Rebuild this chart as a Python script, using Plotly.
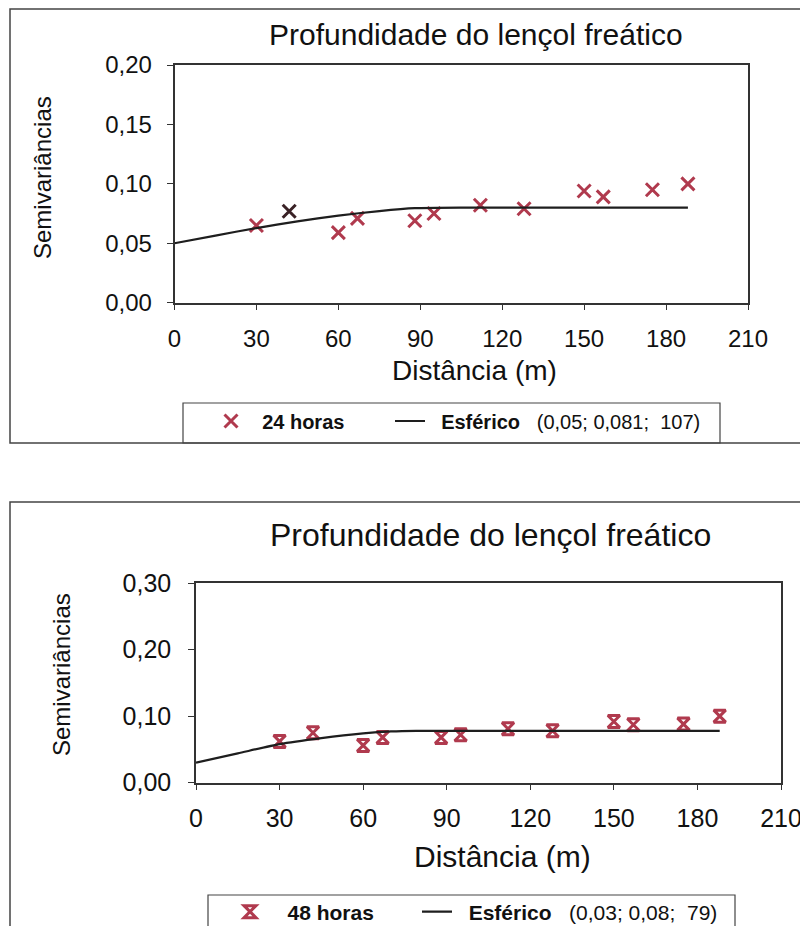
import plotly.graph_objects as go

# the page keeps the browser's 8px body margin; the figure reaches the window's right/bottom edge
OFF = 8
W, H = 808 - OFF, 926 - OFF

def px(x):
    return (x - OFF) / W

def py(y):
    return 1 - (y - OFF) / H

# ---------------- data ----------------
title_text = "Profundidade do lençol freático"
x_title = "Distância (m)"
y_title = "Semivariâncias"

dist = [30, 42, 60, 67, 88, 95, 112, 128, 150, 157, 175, 188]

gamma_24h = [0.065, 0.077, 0.059, 0.071, 0.069, 0.075, 0.082, 0.079, 0.094, 0.089, 0.095, 0.100]
model_24h_x = [0, 15, 30, 45, 60, 75, 88, 107, 188]
model_24h_y = [0.050, 0.0565, 0.0628, 0.0685, 0.0733, 0.0771, 0.0795, 0.0800, 0.0800]

gamma_48h = [0.062, 0.075, 0.056, 0.068, 0.068, 0.072, 0.081, 0.078, 0.092, 0.087, 0.088, 0.100]
model_48h_x = [0, 15, 30, 45, 60, 70, 79, 188]
model_48h_y = [0.030, 0.044, 0.058, 0.067, 0.074, 0.077, 0.078, 0.078]

NB = "\u00a0"
name_24 = NB * 2 + "<b>24 horas</b>"
name_m24 = NB * 2 + "<b>Esférico</b>" + NB * 3 + "(0,05; 0,081;" + NB * 2 + "107)"
name_48 = NB * 3 + "<b>48 horas</b>"
name_m48 = NB * 2 + "<b>Esférico</b>" + NB * 3 + "(0,03; 0,08;" + NB * 2 + "79)"

x_ticks = [0, 30, 60, 90, 120, 150, 180, 210]
y_ticks_top = [0.00, 0.05, 0.10, 0.15, 0.20]
y_ticks_bot = [0.00, 0.10, 0.20, 0.30]

RED = "#b03a4e"
DARK = "#1e1e1e"
FONT = "Liberation Sans, Arial, sans-serif"
TXT = "#111111"

fig = go.Figure()

# top chart
pt_colors = [RED] * len(dist)
pt_colors[1] = "#3a2226"
fig.add_trace(go.Scatter(
    x=dist, y=gamma_24h, mode="markers", name=name_24,
    marker=dict(symbol="x-thin", size=13, color=pt_colors,
                line=dict(width=3, color=pt_colors)),
    xaxis="x", yaxis="y", legend="legend"))
fig.add_trace(go.Scatter(
    x=model_24h_x, y=model_24h_y, mode="lines", name=name_m24,
    line=dict(color=DARK, width=2.2, shape="spline", smoothing=0.6),
    xaxis="x", yaxis="y", legend="legend2"))

# bottom chart
fig.add_trace(go.Scatter(
    x=dist, y=gamma_48h, mode="markers", name=name_48,
    marker=dict(symbol="hourglass-open", size=12, color=RED,
                line=dict(width=3, color=RED)),
    xaxis="x2", yaxis="y2", legend="legend3"))
fig.add_trace(go.Scatter(
    x=model_48h_x, y=model_48h_y, mode="lines", name=name_m48,
    line=dict(color=DARK, width=2.2, shape="spline", smoothing=0.6),
    xaxis="x2", yaxis="y2", legend="legend4"))

def axis(size, standoff):
    return dict(showgrid=False, zeroline=False, showline=True, mirror=True,
                automargin=False,
                linecolor="#333333", linewidth=1.5, ticks="outside",
                tickcolor="#333333", ticklen=6, tickwidth=1.2,
                ticklabelstandoff=standoff,
                tickfont=dict(family=FONT, size=size, color=TXT))

def leg(x, y, size):
    return dict(orientation="h", x=px(x), y=py(y), xanchor="left", yanchor="middle",
                bgcolor="rgba(0,0,0,0)", borderwidth=0,
                font=dict(family=FONT, size=size, color=TXT))

fig.update_layout(
    template="none",
    width=W, height=H,
    margin=dict(l=0, r=0, t=0, b=0, pad=0, autoexpand=False),
    paper_bgcolor="white", plot_bgcolor="white",
    separators=",.",
    font=dict(family=FONT, color=TXT),
    xaxis=dict(domain=[px(174.5), px(748)], range=[0, 210], tickvals=x_ticks,
               anchor="y", **axis(24, 8)),
    yaxis=dict(domain=[py(302.7), py(65)], range=[0, 0.20], tickvals=y_ticks_top,
               tickformat=".2f", anchor="x", **axis(24, 10)),
    xaxis2=dict(domain=[px(196), px(781)], range=[0, 210], tickvals=x_ticks,
                anchor="y2", **axis(25, 7)),
    yaxis2=dict(domain=[py(782.7), py(583)], range=[0, 0.30], tickvals=y_ticks_bot,
                tickformat=".2f", anchor="x2", **axis(25, 12)),
    showlegend=True,
    legend=leg(211, 421, 20),
    legend2=leg(390, 421, 20),
    legend3=leg(230, 912, 21),
    legend4=leg(417, 912, 21),
)

# frames and legend boxes
shapes = [
    dict(type="rect", xref="paper", yref="paper", x0=px(10), x1=px(830), y0=py(443), y1=py(9),
         line=dict(color="#444444", width=1.5)),
    dict(type="rect", xref="paper", yref="paper", x0=px(183), x1=px(720), y0=py(443), y1=py(403),
         line=dict(color="#444444", width=1.2)),
    dict(type="rect", xref="paper", yref="paper", x0=px(10), x1=px(830), y0=py(960), y1=py(502),
         line=dict(color="#444444", width=1.5)),
    dict(type="rect", xref="paper", yref="paper", x0=px(208), x1=px(735), y0=py(960), y1=py(895),
         line=dict(color="#444444", width=1.2)),
]
fig.update_layout(shapes=shapes)

def ann(text, x, y, size, angle=0):
    return dict(text=text, x=px(x), y=py(y), xref="paper", yref="paper",
                xanchor="center", yanchor="middle", textangle=angle,
                showarrow=False, font=dict(family=FONT, size=size, color=TXT))

annotations = [
    ann(title_text, 476, 34, 30),
    ann(title_text, 490, 535, 32),
    ann(x_title, 474, 370, 28),
    ann(x_title, 502, 856, 30),
    ann(y_title, 43, 178, 24, -90),
    ann(y_title, 61, 675, 24, -90),
]
fig.update_layout(annotations=annotations)

fig.write_html("out.html")
